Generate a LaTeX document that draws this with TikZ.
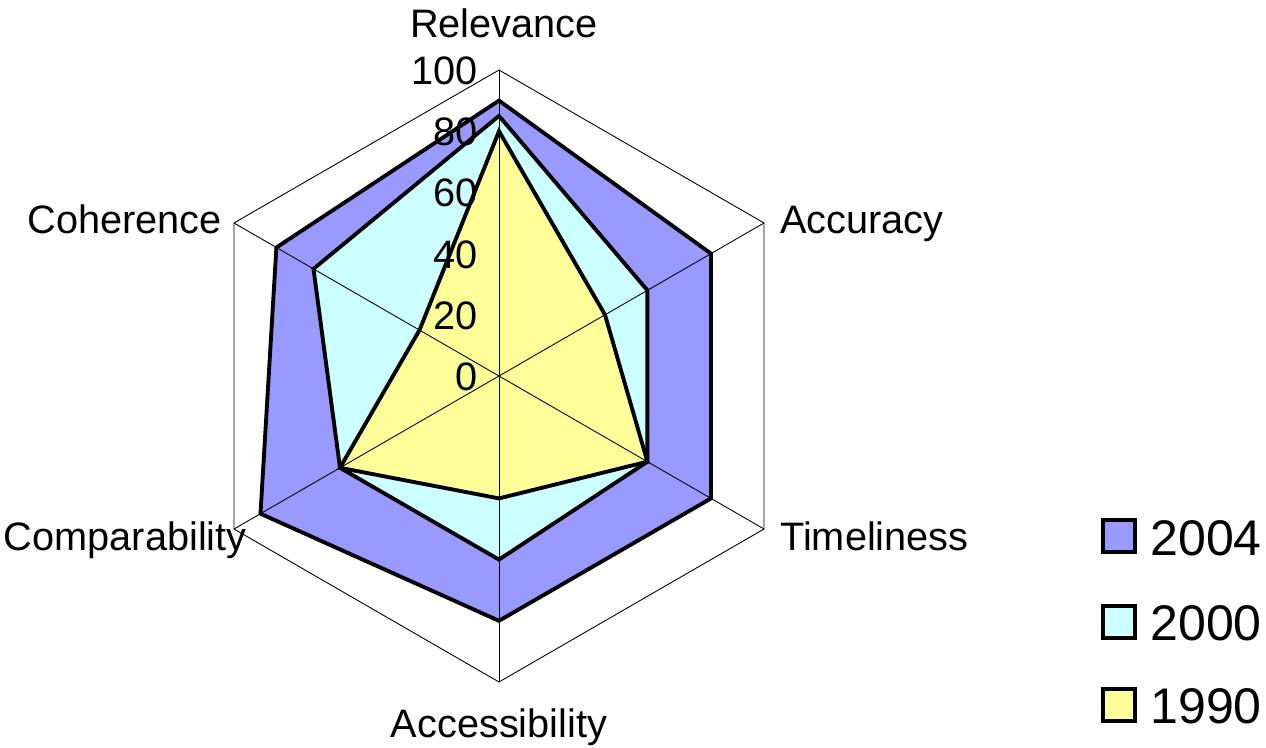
\documentclass[tikz,border=0pt]{standalone}
\usepackage{fontspec}
\setmainfont{Liberation Sans}
\usetikzlibrary{positioning}
\definecolor{c2004}{HTML}{9999FF}
\definecolor{c2000}{HTML}{CCFFFF}
\definecolor{c1990}{HTML}{FFFF99}

\begin{document}
\begin{tikzpicture}[x=0.02cm,y=0.02cm,
    grid/.style={black,line width=0.5pt},
    series/.style={draw=black,line width=2.2pt,line join=miter},
    axlabel/.style={inner sep=0pt,font=\fontsize{22.6}{27}\selectfont},
    legtext/.style={inner sep=0pt,anchor=base west,font=\fontsize{28.5}{34}\selectfont},
    legbox/.style={draw=black,line width=1.9pt}]
    \useasboundingbox (-499,-371) rectangle (767,376);
    % filled areas
    \foreach \yr/\a/\b/\c/\d/\e/\f in {2004/90/80/80/80/90/84, 2000/85/56/56/60/60/70, 1990/80/40/56/40/60/30}
        \fill[c\yr] (90:{3.06*\a}) -- (30:{3.06*\b}) -- (-30:{3.06*\c}) -- (-90:{3.06*\d}) -- (-150:{3.06*\e}) -- (150:{3.06*\f}) -- cycle;
    % web
    \coordinate (o) at (0,0);
    \foreach \ang in {90,30,-30,-90,-150,150}
        \draw[grid] (o) -- (\ang:306);
    \draw[grid] (90:306) -- (30:306) -- (-30:306) -- (-90:306) -- (-150:306) -- (150:306) -- cycle;
    % outlines
    \foreach \yr/\a/\b/\c/\d/\e/\f in {2004/90/80/80/80/90/84, 2000/85/56/56/60/60/70, 1990/80/40/56/40/60/30}
        \draw[series] (90:{3.06*\a}) -- (30:{3.06*\b}) -- (-30:{3.06*\c}) -- (-90:{3.06*\d}) -- (-150:{3.06*\e}) -- (150:{3.06*\f}) -- cycle;
    % axis values
    \foreach \v [count=\k from 0] in {0,20,40,60,80,100}
        \node[axlabel,anchor=base east] (v\v) at (-21,{61.2*\k-14.5}) {\v};
    % categories
    \node[axlabel,anchor=base] (relevance) at (5,338) {Relevance};
    \node[axlabel,anchor=base west] (accuracy) at (281,143) {Accuracy};
    \node[axlabel,anchor=base west] (timeliness) at (281,-174) {Timeliness};
    \node[axlabel,anchor=base] (accessibility) at (0,-361) {Accessibility};
    \node[axlabel,anchor=base east] (comparability) at (-252,-174) {Comparability};
    \node[axlabel,anchor=base east] (coherence) at (-277,143) {Coherence};
    % legend
    \draw[legbox,fill=c2004] (604,-144) rectangle (636,-176);
    \node[legtext] (l2004) at (651,-179) {2004};
    \draw[legbox,fill=c2000] (604,-230) rectangle (636,-262);
    \node[legtext] (l2000) at (651,-264) {2000};
    \draw[legbox,fill=c1990] (604,-313) rectangle (636,-345);
    \node[legtext] (l1990) at (651,-347) {1990};
\end{tikzpicture}
\end{document}
